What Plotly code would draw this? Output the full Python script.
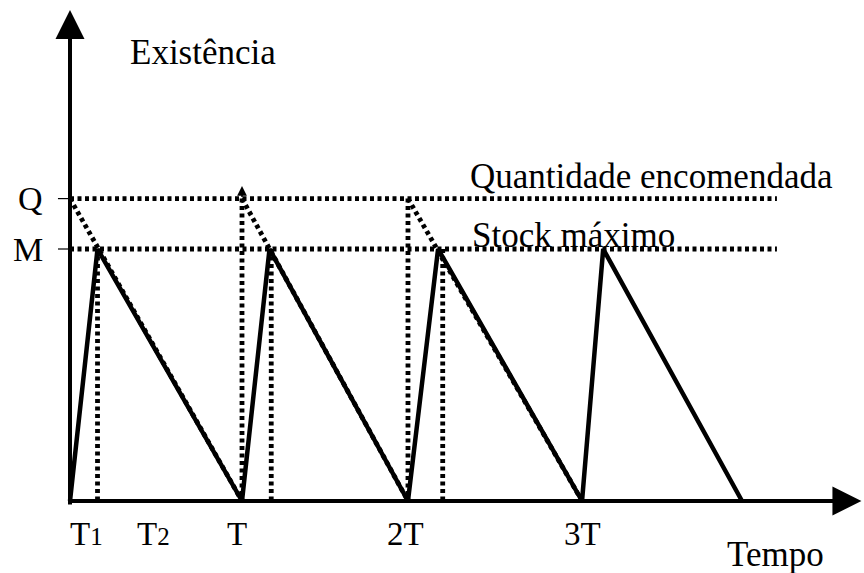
import plotly.graph_objects as go

# ---------------- data (time: T = 100 units, stock: M = 100 units) ----------------
saw_time = [0, 16, 100, 116, 196.5, 214, 297.7, 310, 390.7]
saw_stock = [0, 100, 0, 100, 0, 100, 0, 100, 0]
M_level = 100
Q_level = 120
ref_line_end = 411            # where the dotted Q / M reference lines stop
order_times = [0, 100, 196.5]  # an order of Q is received
zero_times = [100, 196.5, 297.7]  # stock reaches zero
t1_marks = [16, 117, 216.7]    # end of production phase T1
tick_pos = [9.3, 48.3, 97, 195.3, 298]
tick_labels = ['T<span style="font-size:25px">1</span>',
               'T<span style="font-size:25px">2</span>',
               'T', '2T', '3T']
y_labels = ['Q', 'M']
y_label_vals = [Q_level, M_level]

# ---------------- geometry helpers (pixel frame of the 864x573 page) ----------------
W, H = 864, 573
X0_PX, X_SCALE = 70, 1.72     # px of t=0, px per time unit
Y0_PX, Y_SCALE = 501, 2.52    # px of stock=0, px per stock unit
x_range = [(0 - X0_PX) / X_SCALE, (W - X0_PX) / X_SCALE]
y_range = [(Y0_PX - H) / Y_SCALE, Y0_PX / Y_SCALE]

def px_x(p):
    return p / W

def px_y(p):
    return 1 - p / H

FONT = "Liberation Serif"
DOT = "4px,3.5px"
DOT_W = 4.8
BLACK = "#000000"

fig = go.Figure()

# dotted reference lines at Q and M
hx, hy = [], []
for lvl in [Q_level, M_level]:
    hx += [0, ref_line_end, None]
    hy += [lvl, lvl, None]
fig.add_trace(go.Scatter(x=hx, y=hy, mode="lines",
                         line=dict(color=BLACK, width=DOT_W, dash=DOT), hoverinfo="skip"))

# dotted theoretical consumption lines (from Q down to zero)
dx, dy = [], []
for s, e in zip(order_times, zero_times):
    dx += [s, e, None]
    dy += [Q_level, 0, None]
# dotted vertical lines at order instants (T, 2T)
for s in order_times[1:]:
    dx += [s, s, None]
    dy += [Q_level, 0, None]
# dotted vertical lines at end of T1
for s in t1_marks:
    dx += [s, s, None]
    dy += [M_level, 0, None]
fig.add_trace(go.Scatter(x=dx, y=dy, mode="lines",
                         line=dict(color=BLACK, width=DOT_W, dash=DOT), hoverinfo="skip"))

# short ticks at Q and M on the y axis
tx, ty = [], []
for v in y_label_vals:
    tx += [-7, 0, None]
    ty += [v, v, None]
fig.add_trace(go.Scatter(x=tx, y=ty, mode="lines",
                         line=dict(color=BLACK, width=1.2), hoverinfo="skip"))

# stock sawtooth
fig.add_trace(go.Scatter(x=saw_time, y=saw_stock, mode="lines",
                         line=dict(color=BLACK, width=4.5), cliponaxis=False,
                         hoverinfo="skip"))

annotations = []
# y axis with arrow
annotations.append(dict(x=0, y=y_range[1] - 4, ax=0, ay=-2, xref="x", yref="y",
                        axref="x", ayref="y", showarrow=True, arrowhead=2,
                        arrowwidth=4, arrowsize=1.45, arrowcolor=BLACK, text=""))
# x axis with arrow
annotations.append(dict(x=x_range[1] - 1.5, y=0, ax=-0.5, ay=0, xref="x", yref="y",
                        axref="x", ayref="y", showarrow=True, arrowhead=2,
                        arrowwidth=4, arrowsize=1.45, arrowcolor=BLACK, text=""))
# small arrow tip above the dotted line at T
annotations.append(dict(x=order_times[1], y=Q_level + 5, ax=order_times[1], ay=Q_level,
                        xref="x", yref="y", axref="x", ayref="y", showarrow=True,
                        arrowhead=2, arrowwidth=1.5, arrowsize=1.3, arrowcolor=BLACK,
                        text=""))

# tick labels on time axis
for p, lab in zip(tick_pos, tick_labels):
    annotations.append(dict(x=p, y=px_y(534), xref="x", yref="paper", text=lab,
                            showarrow=False, xanchor="center", yanchor="middle",
                            font=dict(family=FONT, size=33, color=BLACK)))
# Q / M labels
for lab, v in zip(y_labels, y_label_vals):
    annotations.append(dict(x=px_x(45), y=v, xref="paper", yref="y", text=lab,
                            showarrow=False, xanchor="right", yanchor="middle",
                            font=dict(family=FONT, size=34, color=BLACK)))

texts = [
    ("Existência", 128, 52.5),
    ("Quantidade encomendada", 468, 177),
    ("Stock máximo", 470, 235),
    ("Tempo", 725, 554.5),
]
for t, xl, yc in texts:
    annotations.append(dict(x=px_x(xl), y=px_y(yc), xref="paper", yref="paper",
                            text=t, showarrow=False,
                            xanchor="left", yanchor="middle",
                            font=dict(family=FONT, size=35, color=BLACK)))

fig.update_layout(
    width=W, height=H,
    margin=dict(l=0, r=0, t=0, b=0, pad=0),
    paper_bgcolor="white", plot_bgcolor="white",
    showlegend=False,
    xaxis=dict(range=x_range, visible=False, fixedrange=True),
    yaxis=dict(range=y_range, visible=False, fixedrange=True),
    annotations=annotations,
)

fig.write_html("out.html", config={"displayModeBar": False},
               post_script="document.body.style.margin='0';document.body.style.overflow='hidden';")
